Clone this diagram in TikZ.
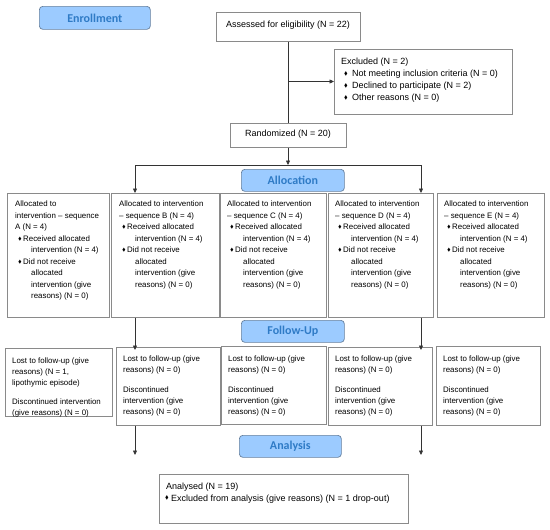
\documentclass[tikz,border=0pt]{standalone}
\usepackage{fontspec}
\usepackage{amssymb}
\setmainfont{Liberation Sans}
\newfontfamily\hdrfont{Carlito}
\usetikzlibrary{arrows.meta}
\definecolor{hdrfill}{HTML}{9CCBFF}
\definecolor{hdrline}{HTML}{66809E}
\definecolor{hdrtext}{HTML}{2F7BC6}
\definecolor{boxline}{HTML}{8A8A8A}
\definecolor{conn}{HTML}{333333}
\newcommand\dia{\raisebox{0.25ex}{\scalebox{0.6}{$\blacklozenge$}}}
\newcommand\bitem[1]{\hspace*{3pt}\makebox[5pt][l]{\dia}#1}
\newcommand\cont[1]{\hspace*{16pt}#1}
\tikzset{
  hdr/.style={draw=hdrline, fill=hdrfill, rounded corners=3.5pt, line width=0.7pt,
    font=\hdrfont\bfseries\fontsize{12}{14}\selectfont, text=hdrtext, anchor=north west, inner sep=0pt},
  box/.style={draw=boxline, line width=0.7pt, fill=white, anchor=north west, inner sep=0pt},
  bigtxt/.style={anchor=north west, inner sep=0pt, align=left, font=\fontsize{9}{12.1}\selectfont},
  smalltxt/.style={anchor=north west, inner sep=0pt, align=left, font=\fontsize{7.9}{11.5}\selectfont},
  futxt/.style={anchor=north west, inner sep=0pt, align=left, font=\fontsize{7.9}{10.8}\selectfont},
  con/.style={draw=conn, line width=0.7pt},
  arr/.style={con, -{Triangle[length=4.5pt,width=4pt]}}
}
\begin{document}
\begin{tikzpicture}[x=1pt,y=-1pt]
\useasboundingbox (0,0) rectangle (550,530);
\fill[white] (0,0) rectangle (550,530);
% headers
\node[hdr, minimum width=111pt, minimum height=23pt] (enr) at (39,6) {Enrollment};
\node[hdr, minimum width=103pt, minimum height=22pt] (alloc) at (241,169) {Allocation};
\node[hdr, minimum width=103pt, minimum height=22pt] (fu) at (241,320) {Follow-Up};
\node[hdr, minimum width=102pt, minimum height=22pt] (ana) at (239,435) {Analysis};
% top boxes
\node[box, minimum width=144pt, minimum height=29pt] (assess) at (216,12) {};
\node[bigtxt, anchor=center] (assesst) at (288,25) {Assessed for eligibility (N = 22)};
\node[box, minimum width=178pt, minimum height=65pt] (excl) at (334,49) {};
\node[bigtxt] (exclt) at (341,57.6) {Excluded (N = 2)\\
\bitem{\hspace*{3pt}Not meeting inclusion criteria (N = 0)}\\
\bitem{\hspace*{3pt}Declined to participate (N = 2)}\\
\bitem{\hspace*{3pt}Other reasons (N = 0)}};
\node[box, minimum width=116pt, minimum height=24pt] (rand) at (230,123) {};
\node[bigtxt, anchor=center] (randt) at (288,134.5) {Randomized (N = 20)};
% allocation boxes
\node[box, minimum width=102pt, minimum height=124pt] (A) at (7,193) {};
\node[box, minimum width=108pt, minimum height=124pt] (B) at (111,193) {};
\node[box, minimum width=106pt, minimum height=124pt] (C) at (220,193) {};
\node[box, minimum width=105pt, minimum height=124pt] (D) at (328,193) {};
\node[box, minimum width=107pt, minimum height=124pt] (E) at (437,193) {};
\node[smalltxt] (At) at (15,201) {Allocated to\\ intervention – sequence\\ A (N = 4)\\
\bitem{Received allocated}\\ \cont{intervention (N = 4)}\\ \bitem{Did not receive}\\
\cont{allocated}\\ \cont{intervention (give}\\ \cont{reasons) (N = 0)}};
\node[smalltxt] (Bt) at (119,201) {Allocated to intervention\\ – sequence B (N = 4)\\
\bitem{Received allocated}\\ \cont{intervention (N = 4)}\\ \bitem{Did not receive}\\
\cont{allocated}\\ \cont{intervention (give}\\ \cont{reasons) (N = 0)}};
\node[smalltxt] (Ct) at (227,201) {Allocated to intervention\\ – sequence C (N = 4)\\
\bitem{Received allocated}\\ \cont{intervention (N = 4)}\\ \bitem{Did not receive}\\
\cont{allocated}\\ \cont{intervention (give}\\ \cont{reasons) (N = 0)}};
\node[smalltxt] (Dt) at (335,201) {Allocated to intervention\\ – sequence D (N = 4)\\
\bitem{Received allocated}\\ \cont{intervention (N = 4)}\\ \bitem{Did not receive}\\
\cont{allocated}\\ \cont{intervention (give}\\ \cont{reasons) (N = 0)}};
\node[smalltxt] (Et) at (444,201) {Allocated to intervention\\ – sequence E (N = 4)\\
\bitem{Received allocated}\\ \cont{intervention (N = 4)}\\ \bitem{Did not receive}\\
\cont{allocated}\\ \cont{intervention (give}\\ \cont{reasons) (N = 0)}};
% follow-up boxes
\node[box, minimum width=107pt, minimum height=68pt] (F1) at (5,348) {};
\node[box, minimum width=104pt, minimum height=78pt] (F2) at (116,347) {};
\node[box, minimum width=105pt, minimum height=78pt] (F3) at (221,346) {};
\node[box, minimum width=104pt, minimum height=78pt] (F4) at (328,347) {};
\node[box, minimum width=104pt, minimum height=79pt] (F5) at (436,346) {};
\node[futxt] (F1t) at (12,357.5) {Lost to follow-up (give\\ reasons) (N = 1,\\ lipothymic episode)\\[9pt]
Discontinued intervention\\ (give reasons) (N = 0)};
\node[futxt] (F2t) at (123,356) {Lost to follow-up (give\\ reasons) (N = 0)\\[9pt]
Discontinued\\ intervention (give\\ reasons) (N = 0)};
\node[futxt] (F3t) at (228,356) {Lost to follow-up (give\\ reasons) (N = 0)\\[9pt]
Discontinued\\ intervention (give\\ reasons) (N = 0)};
\node[futxt] (F4t) at (335,356) {Lost to follow-up (give\\ reasons) (N = 0)\\[9pt]
Discontinued\\ intervention (give\\ reasons) (N = 0)};
\node[futxt] (F5t) at (443,356) {Lost to follow-up (give\\ reasons) (N = 0)\\[9pt]
Discontinued\\ intervention (give\\ reasons) (N = 0)};
% analysed
\node[box, minimum width=249pt, minimum height=49pt] (anl) at (159,474) {};
\node[bigtxt] (anlt) at (166,482.3) {Analysed (N = 19)\\
\hspace*{-1pt}\makebox[6pt][l]{\dia}Excluded from analysis (give reasons) (N = 1 drop-out)};
% connectors
\coordinate (br) at (288,81.5);
\coordinate (split) at (288,165);
\coordinate (sl) at (135,165);
\coordinate (sr) at (421,165);
\coordinate (endl) at (135,455);
\coordinate (endr) at (421,455);
\draw[con] (assess.south -| br) -- (rand.north -| br);
\draw[arr] (br) -- (excl.west |- br);
\draw[arr] (rand.south -| split) -- (split);
\draw[con] (sl) -- (sr);
\draw[arr] (sl) -- (sl |- B.north);
\draw[arr] (sr) -- (sr |- D.north);
\draw[arr] (B.south -| sl) -- ([yshift=-3pt]F2.north -| sl);
\draw[arr] (D.south -| sr) -- ([yshift=-3pt]F4.north -| sr);
\draw[arr] (F2.south -| endl) -- (endl);
\draw[arr] (F4.south -| endr) -- (endr);
\end{tikzpicture}
\end{document}
